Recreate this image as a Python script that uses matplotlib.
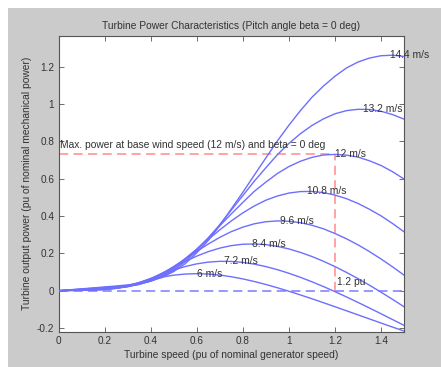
import matplotlib
matplotlib.use("Agg")
import matplotlib.pyplot as plt
from matplotlib.patches import Rectangle

plt.rcParams['font.family'] = ['Liberation Sans', 'DejaVu Sans']

# ---------------- data ----------------
turbine_speed = [0.00, 0.05, 0.10, 0.15, 0.20, 0.25, 0.30, 0.35, 0.40, 0.45,
                 0.50, 0.55, 0.60, 0.65, 0.70, 0.75, 0.80, 0.85, 0.90, 0.95,
                 1.00, 1.05, 1.10, 1.15, 1.20, 1.25, 1.30, 1.35, 1.40, 1.45, 1.50]

p_6_0 = [0, 0.0009, 0.0017, 0.0029, 0.0065, 0.0147, 0.0278, 0.0434, 0.0591, 0.0727,
         0.0831, 0.0893, 0.0912, 0.0894, 0.0838, 0.0748, 0.0632, 0.0493, 0.0334, 0.0159,
         -0.0028, -0.0226, -0.0431, -0.0642, -0.0857, -0.1074, -0.1293, -0.1512, -0.1730, -0.1947, -0.2162]
p_7_2 = [0, 0.0013, 0.0025, 0.0039, 0.0066, 0.0128, 0.0253, 0.0439, 0.0658, 0.0888,
         0.1107, 0.1294, 0.1436, 0.1531, 0.1573, 0.1568, 0.1518, 0.1423, 0.1292, 0.1128,
         0.0935, 0.0717, 0.0479, 0.0223, -0.0048, -0.0332, -0.0626, -0.0927, -0.1233, -0.1543, -0.1856]
p_8_4 = [0, 0.0017, 0.0034, 0.0052, 0.0075, 0.0123, 0.0230, 0.0402, 0.0643, 0.0944,
         0.1255, 0.1566, 0.1852, 0.2092, 0.2280, 0.2414, 0.2489, 0.2502, 0.2469, 0.2374,
         0.2238, 0.2052, 0.1833, 0.1578, 0.1293, 0.0982, 0.0648, 0.0294, -0.0077, -0.0462, -0.0859]
p_9_6 = [0, 0.0022, 0.0045, 0.0067, 0.0092, 0.0132, 0.0210, 0.0366, 0.0600, 0.0911,
         0.1296, 0.1697, 0.2106, 0.2498, 0.2856, 0.3163, 0.3403, 0.3583, 0.3692, 0.3737,
         0.3717, 0.3644, 0.3506, 0.3316, 0.3063, 0.2781, 0.2457, 0.2094, 0.1701, 0.1280, 0.0835]
p_10_8 = [0, 0.0028, 0.0057, 0.0085, 0.0114, 0.0150, 0.0222, 0.0344, 0.0549, 0.0854,
          0.1244, 0.1721, 0.2221, 0.2742, 0.3257, 0.3736, 0.4165, 0.4538, 0.4845, 0.5070,
          0.5229, 0.5308, 0.5316, 0.5253, 0.5122, 0.4929, 0.4675, 0.4360, 0.4011, 0.3601, 0.3155]
p_12_0 = [0, 0.0035, 0.0070, 0.0105, 0.0140, 0.0179, 0.0236, 0.0335, 0.0517, 0.0791,
          0.1171, 0.1655, 0.2220, 0.2826, 0.3475, 0.4112, 0.4725, 0.5321, 0.5813, 0.6273,
          0.6646, 0.6932, 0.7140, 0.7268, 0.7300, 0.7259, 0.7156, 0.6958, 0.6707, 0.6374, 0.5981]
p_13_2 = [0, 0.0042, 0.0085, 0.0127, 0.0168, 0.0213, 0.0269, 0.0364, 0.0506, 0.0749,
          0.1093, 0.1559, 0.2138, 0.2814, 0.3536, 0.4314, 0.5091, 0.5864, 0.6581, 0.7279,
          0.7884, 0.8405, 0.8846, 0.9200, 0.9473, 0.9643, 0.9714, 0.9706, 0.9611, 0.9433, 0.9190]
p_14_4 = [0, 0.0050, 0.0100, 0.0150, 0.0202, 0.0252, 0.0310, 0.0384, 0.0526, 0.0710,
          0.1025, 0.1445, 0.2024, 0.2691, 0.3487, 0.4376, 0.5264, 0.6189, 0.7106, 0.8015,
          0.8856, 0.9640, 1.0354, 1.0956, 1.1484, 1.1926, 1.2246, 1.2459, 1.2583, 1.2612, 1.2543]

power_curves = [p_6_0, p_7_2, p_8_4, p_9_6, p_10_8, p_12_0, p_13_2, p_14_4]
wind_labels = ['6 m/s', '7.2 m/s', '8.4 m/s', '9.6 m/s', '10.8 m/s', '12 m/s', '13.2 m/s', '14.4 m/s']
peak_speed = [0.60, 0.72, 0.84, 0.96, 1.08, 1.20, 1.32, 1.44]
peak_power = [0.091, 0.158, 0.250, 0.374, 0.532, 0.730, 0.972, 1.261]

base_speed = 1.2
base_power = 0.73

x_ticks = [0, 0.2, 0.4, 0.6, 0.8, 1.0, 1.2, 1.4]
x_tick_labels = ['0', '0.2', '0.4', '0.6', '0.8', '1', '1.2', '1.4']
y_ticks = [-0.2, 0, 0.2, 0.4, 0.6, 0.8, 1.0, 1.2]
y_tick_labels = ['-0.2', '0', '0.2', '0.4', '0.6', '0.8', '1', '1.2']

# ---------------- figure ----------------
W, H = 441, 367
fig = plt.figure(figsize=(W / 100, H / 100), dpi=100)
fig.patch.set_facecolor('white')
fig.patches.append(Rectangle((8 / W, 0), 1, 1 - 8 / H, transform=fig.transFigure,
                             facecolor='#cbcbcb', edgecolor='none', zorder=-10))

ax = fig.add_axes([58.5 / W, 1 - 331.5 / H, 345.5 / W, 295.5 / H])
ax.set_facecolor('white')
ax.set_xlim(0, 1.5)
ax.set_ylim(-0.2185, 1.364)

txt = '#333333'
curve_col = '#6e6eff'
fs = 7.4

ax.plot([0, 1.5], [0, 0], color='#7a7aff', lw=1.1, dashes=(6, 3.5), zorder=2)
ax.plot([0, base_speed], [base_power, base_power], color='#ff8a8a', lw=1.1, dashes=(6, 3.5), zorder=2)
ax.plot([base_speed, base_speed], [0, base_power], color='#ff8a8a', lw=1.1, dashes=(6, 3.5), zorder=2)

for p in power_curves:
    ax.plot(turbine_speed, p, color=curve_col, lw=1.0, zorder=3)

for lab, xs, ys in zip(wind_labels, peak_speed, peak_power):
    ax.text(xs, ys, lab, ha='left', va='center', fontsize=fs, color=txt, zorder=4)

ax.text(0.005, 0.78, 'Max. power at base wind speed (12 m/s) and beta = 0 deg',
        ha='left', va='center', fontsize=fs, color=txt)
ax.text(1.21, 0.045, '1.2 pu', ha='left', va='center', fontsize=fs, color=txt)

ax.set_xticks(x_ticks)
ax.set_xticklabels(x_tick_labels)
ax.set_yticks(y_ticks)
ax.set_yticklabels(y_tick_labels)
ax.tick_params(direction='in', top=True, right=True, length=3.5, width=0.6,
               labelsize=7.2, labelcolor=txt, color='#555555', pad=3)
for s in ax.spines.values():
    s.set_color('#555555')
    s.set_linewidth(0.8)

ax.set_title('Turbine Power Characteristics (Pitch angle beta = 0 deg)',
             fontsize=fs, color=txt, pad=5)
ax.set_xlabel('Turbine speed (pu of nominal generator speed)', fontsize=fs, color=txt, labelpad=3)
ax.set_ylabel('Turbine output power (pu of nominal mechanical power)', fontsize=fs, color=txt, labelpad=3.5)

fig.savefig('out.png', dpi=100)
